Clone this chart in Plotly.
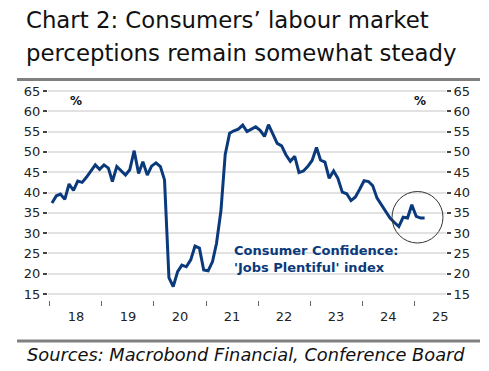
import pandas as pd
import plotly.graph_objects as go

# ---- data (monthly, Jan 2018 - Mar 2025) ----
jobs_2018 = [37.4, 39.2, 39.6, 38.3, 42.1, 40.5, 42.8, 42.5, 43.8, 45.3, 46.8, 45.7]
jobs_2019 = [46.8, 46.0, 42.7, 46.4, 45.4, 44.3, 45.6, 50.3, 44.7, 47.6, 44.3, 46.5]
jobs_2020 = [47.3, 46.4, 43.1, 19.0, 16.8, 20.5, 22.1, 21.7, 23.4, 26.8, 26.3, 20.9]
jobs_2021 = [20.7, 23.0, 27.5, 35.5, 49.4, 54.6, 55.2, 55.6, 56.6, 55.0, 55.6, 56.2]
jobs_2022 = [55.3, 53.8, 56.7, 54.5, 52.1, 51.5, 49.3, 47.7, 48.9, 44.9, 45.3, 46.4]
jobs_2023 = [47.9, 51.1, 48.0, 47.5, 43.5, 45.3, 43.5, 40.1, 39.7, 38.0, 38.9, 40.8]
jobs_2024 = [42.9, 42.7, 41.7, 38.6, 37.0, 35.3, 33.7, 32.6, 31.6, 33.9, 33.7, 37.0]
jobs_2025 = [34.1, 33.7, 33.7]

values = jobs_2018 + jobs_2019 + jobs_2020 + jobs_2021 + jobs_2022 + jobs_2023 + jobs_2024 + jobs_2025
dates = pd.date_range("2018-01-01", periods=len(values), freq="MS") + pd.Timedelta(days=14)

year_ticks = [f"{y}-01-01" for y in range(2018, 2026)]
year_label_pos = [f"{y}-07-02" for y in range(2018, 2026)]
year_labels = ["18", "19", "20", "21", "22", "23", "24", "25"]
y_ticks = list(range(15, 70, 5))

W, H = 489, 371
L, R, T, B = 48, 446, 90, 300

def px(x):
    return (x - L) / (R - L)

def py(y):
    return (B - y) / (B - T)

NAVY = "#0b3a7c"
FONT = "DejaVu Sans"

fig = go.Figure()
fig.add_trace(go.Scatter(x=dates, y=values, mode="lines",
                         line=dict(color=NAVY, width=3), showlegend=False,
                         hoverinfo="skip"))
# invisible trace to activate secondary axes
fig.add_trace(go.Scatter(x=dates, y=values, mode="lines", xaxis="x2", yaxis="y2",
                         line=dict(width=0, color="rgba(0,0,0,0)"), showlegend=False,
                         hoverinfo="skip"))

yr = [13.52, 65.25]
xr = ["2017-12-18", "2025-08-12"]

fig.update_layout(
    width=W, height=H,
    margin=dict(l=L, r=W - R, t=T, b=H - B, autoexpand=False),
    paper_bgcolor="white", plot_bgcolor="white",
    xaxis=dict(type="date", range=xr, tickvals=year_ticks, showticklabels=False,
               ticks="outside", ticklen=5, tickwidth=1, tickcolor="#666",
               showgrid=False, zeroline=False, showline=False),
    xaxis2=dict(type="date", range=xr, overlaying="x", anchor="y", side="bottom",
                tickvals=year_label_pos, ticktext=year_labels,
                ticks="outside", ticklen=4, tickcolor="rgba(0,0,0,0)",
                tickfont=dict(family=FONT, size=13, color="#222"),
                showgrid=False, zeroline=False, showline=False),
    yaxis=dict(range=yr, tickvals=y_ticks, ticks="outside", ticklen=4, tickwidth=1.5,
               tickcolor="#444", tickfont=dict(family=FONT, size=13, color="#222"),
               showgrid=True, gridcolor="#e2e2e2", gridwidth=1.5,
               zeroline=False, showline=False),
    yaxis2=dict(range=yr, tickvals=y_ticks, overlaying="y", side="right", anchor="x",
                ticks="outside", ticklen=4, tickwidth=1.5, tickcolor="#444",
                tickfont=dict(family=FONT, size=13, color="#222"),
                showgrid=False, zeroline=False, showline=False),
)

ann = []
ann.append(dict(text="Chart 2: Consumers\u2019 labour market", x=px(24), y=py(20),
                xref="paper", yref="paper", xanchor="left", yanchor="middle",
                showarrow=False, font=dict(family=FONT, size=22.8, color="#111")))
ann.append(dict(text="perceptions remain somewhat steady", x=px(24), y=py(53),
                xref="paper", yref="paper", xanchor="left", yanchor="middle",
                showarrow=False, font=dict(family=FONT, size=22.8, color="#111")))
ann.append(dict(text="Sources: Macrobond Financial, Conference Board", x=px(25), y=py(354),
                xref="paper", yref="paper", xanchor="left", yanchor="middle",
                showarrow=False, font=dict(family=FONT, size=17.8, color="#111", style="italic")))
ann.append(dict(text="<b>%</b>", x=px(68), y=py(92), xref="paper", yref="paper",
                showarrow=False, font=dict(family=FONT, size=12, color="#111")))
ann.append(dict(text="<b>%</b>", x=px(428), y=py(92), xref="paper", yref="paper",
                showarrow=False, font=dict(family=FONT, size=12, color="#111")))
ann.append(dict(text="<b>Consumer Confidence:<br>'Jobs Plentiful' index</b>",
                x=px(232), y=py(259), xref="paper", yref="paper", xanchor="left",
                yanchor="middle", align="left", showarrow=False,
                font=dict(family=FONT, size=13, color=NAVY)))
fig.update_layout(annotations=ann)

shapes = [
    dict(type="rect", xref="paper", yref="paper", x0=px(17), x1=px(480), y0=py(78), y1=py(81),
         fillcolor="#808080", line=dict(width=0)),
    dict(type="rect", xref="paper", yref="paper", x0=px(17), x1=px(480), y0=py(339.5), y1=py(342.5),
         fillcolor="#808080", line=dict(width=0)),
    dict(type="circle", xref="paper", yref="paper", x0=px(392), x1=px(443), y0=py(243), y1=py(191.5),
         line=dict(color="#333", width=1), fillcolor="rgba(0,0,0,0)"),
]
fig.update_layout(shapes=shapes)

fig.write_html("out.html", config={"displayModeBar": False},
               post_script="document.body.style.margin='0px';")
